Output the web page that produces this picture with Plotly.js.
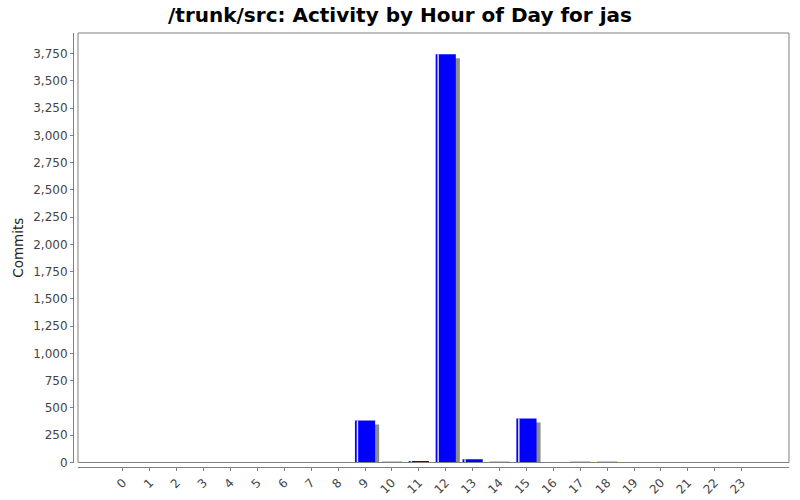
<!DOCTYPE html>
<html>
<head>
<meta charset="utf-8">
<script src="https://cdn.plot.ly/plotly-3.0.1.min.js"></script>
<style>
  html, body { margin: 0; padding: 0; background: #fff; }
  #chart { width: 800px; height: 500px; }
</style>
</head>
<body>
<div id="chart"></div>
<script>
// commits per hour of day
var hours = [0, 1, 2, 3, 4, 5, 6, 7, 8, 9, 10, 11, 12, 13, 14, 15, 16, 17, 18, 19, 20, 21, 22, 23];
var hourLabels = hours.map(function (h) { return String(h); });
var commits = [0, 0, 0, 0, 0, 0, 0, 0, 0, 385, 8, 14, 3745, 30, 6, 403, 0, 6, 6, 0, 0, 0, 4, 0];

var barWidth = 0.75;
var shadowDx = 0.15;   // ~4px right
var shadowDy = -36.7;  // ~4px down

var shadow = {
  type: "bar",
  x: hours,
  y: commits,
  base: shadowDy,
  width: barWidth,
  offset: -barWidth / 2 + shadowDx,
  marker: { color: "#8c8c8c", line: { width: 0 } },
  hoverinfo: "skip"
};

var bars = {
  type: "bar",
  x: hours,
  y: commits,
  width: barWidth,
  offset: -barWidth / 2,
  marker: { color: "#0000ff", line: { width: 0 } },
  name: "Commits"
};

// thin light stripe near left edge of every bar
var stripe = {
  type: "bar",
  x: hours,
  y: commits,
  width: 0.055,
  offset: -barWidth / 2 + 0.065,
  marker: { color: "rgba(235,235,255,0.95)", line: { width: 0 } },
  hoverinfo: "skip"
};

var layout = {
  width: 800,
  height: 500,
  paper_bgcolor: "#ffffff",
  plot_bgcolor: "#ffffff",
  showlegend: false,
  barmode: "overlay",
  margin: { l: 73, r: 11, t: 33, b: 33 },
  font: { family: "DejaVu Sans, sans-serif", size: 12, color: "#444444" },
  title: {
    text: "<b>/trunk/src: Activity by Hour of Day for jas</b>",
    font: { family: "DejaVu Sans, sans-serif", size: 20, color: "#000000" },
    x: 0.5,
    xanchor: "center",
    y: 0.971,
    yanchor: "middle"
  },
  xaxis: {
    domain: [5 / 716, 1],
    anchor: "free",
    position: 0,
    range: [-1.67, 24.76],
    tickmode: "array",
    tickvals: hours,
    ticktext: hourLabels,
    tickangle: -45,
    ticks: "outside",
    ticklen: 3,
    tickcolor: "#808080",
    showline: true,
    linecolor: "#808080",
    linewidth: 1,
    showgrid: false,
    zeroline: false,
    tickfont: { size: 12, color: "#444444" }
  },
  yaxis: {
    domain: [4.5 / 434, 1],
    anchor: "free",
    position: 0,
    range: [0, 3940],
    dtick: 250,
    tick0: 0,
    tickformat: ",d",
    ticks: "outside",
    ticklen: 3,
    tickcolor: "#808080",
    showline: true,
    linecolor: "#808080",
    linewidth: 1,
    showgrid: false,
    zeroline: false,
    tickfont: { size: 12, color: "#444444" },
    title: {
      text: "Commits",
      font: { size: 13.5, color: "#222222" },
      standoff: 5
    }
  },
  shapes: [{
    type: "rect",
    xref: "x domain", yref: "y domain",
    x0: 0, x1: 1, y0: 0, y1: 1,
    line: { color: "#808080", width: 1 },
    fillcolor: "rgba(0,0,0,0)"
  }]
};

Plotly.newPlot("chart", [shadow, bars, stripe], layout, { displayModeBar: false, staticPlot: true });
</script>
</body>
</html>
